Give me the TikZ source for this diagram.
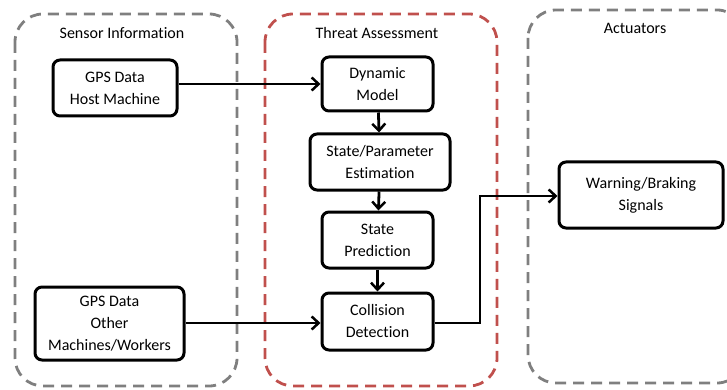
\documentclass[tikz,border=0pt]{standalone}
\usepackage{fontspec}
\setmainfont[Ligatures=NoCommon]{Carlito}
\usetikzlibrary{arrows.meta}
\definecolor{grayd}{HTML}{7F7F7F}
\definecolor{redd}{HTML}{C0504D}
\tikzset{
  container/.style={draw=#1, line width=2.8pt, dash pattern=on 11pt off 7pt, rounded corners=28pt},
  blk/.style={draw, line width=3pt, rounded corners=7pt, align=center, font=\fontsize{16}{22}\selectfont, inner sep=0pt},
  title/.style={font=\fontsize{16}{18}\selectfont},
  arr/.style={line width=2.8pt, -{Straight Barb[length=7pt,width=13pt,line width=2.5pt]}},
}
\begin{document}
\begin{tikzpicture}[x=1pt,y=-1pt]
\useasboundingbox (0,0) rectangle (727,390);
\begin{scope}
\clip (0,0) rectangle (727,390);
\draw[container=grayd] (15,14) rectangle (237,386);
\draw[container=redd] (265,14) rectangle (497,386);
\draw[container=grayd] (528,10) rectangle (745,383);
\end{scope}
\node[title] (t1) at (122,33) {Sensor Information};
\node[title] (t2) at (377,33) {Threat Assessment};
\node[title] (t3) at (635,28) {Actuators};
\node[blk, minimum width=124pt, minimum height=56pt] (host) at (115,88) {GPS Data\\Host Machine};
\node[blk, minimum width=149pt, minimum height=73pt] (other) at (109.5,323.5) {GPS Data\\Other\\Machines/Workers};
\node[blk, minimum width=111pt, minimum height=54pt] (dyn) at (377.5,84) {Dynamic\\Model};
\node[blk, minimum width=140pt, minimum height=56pt] (est) at (380,162) {State/Parameter\\Estimation};
\node[blk, minimum width=111pt, minimum height=56pt] (pred) at (377.5,240) {State\\Prediction};
\node[blk, minimum width=111pt, minimum height=57pt] (coll) at (377.5,321.5) {Collision\\Detection};
\node[blk, minimum width=164pt, minimum height=66pt] (warn) at (641,195) {Warning/Braking\\Signals};
\coordinate (c1) at (480,323);
\coordinate (c2) at (480,196);
\draw[arr] (host.east |- 0,84) -- (dyn.west |- 0,84);
\draw[arr] (other.east |- 0,323) -- (coll.west |- 0,323);
\draw[arr] (dyn) -- (est);
\draw[arr] (est) -- (pred);
\draw[arr] (pred) -- (coll);
\draw[arr, rounded corners=0pt] (coll.east |- c1) -- (c1) -- (c2) -- (warn.west |- c2);
\end{tikzpicture}
\end{document}
